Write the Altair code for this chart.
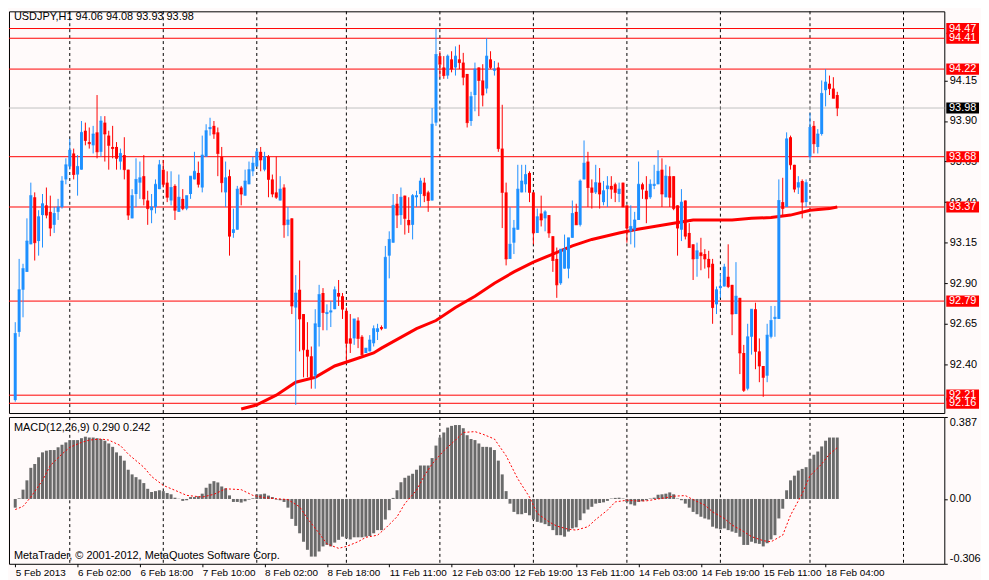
import json
import altair as alt
import pandas as pd

SYMBOL = "USDJPY,H1"
FONT = "Liberation Sans, Arial, sans-serif"
W = 943
H_MAIN = 405
H_MACD = 148
X_DOMAIN = [-0.33, 237.2]
PRICE_DOMAIN = [92.10, 94.576]
MACD_DOMAIN = [-0.306, 0.387]

opens = [
    92.18, 92.60, 92.86, 92.97, 93.14, 93.43, 93.16, 93.32, 93.38, 93.34,
    93.26, 93.34, 93.37, 93.54, 93.62, 93.70, 93.57, 93.60, 93.84, 93.77,
    93.75, 93.83, 93.71, 93.89, 93.81, 93.74, 93.74, 93.65, 93.69, 93.60,
    93.30, 93.45, 93.52, 93.56, 93.41, 93.35, 93.37, 93.48, 93.60, 93.52,
    93.41, 93.50, 93.34, 93.42, 93.36, 93.45, 93.54, 93.58, 93.49, 93.68,
    93.85, 93.87, 93.83, 93.68, 93.46, 93.56, 93.21, 93.23, 93.49, 93.44,
    93.51, 93.59, 93.62, 93.71, 93.60, 93.68, 93.54, 93.46, 93.41, 93.49,
    93.26, 93.30, 92.75, 92.86, 92.71, 92.49, 92.45, 92.33, 92.63, 92.84,
    92.71, 92.72, 92.74, 92.84, 92.82, 92.73, 92.56, 92.56, 92.67, 92.57,
    92.47, 92.48, 92.53, 92.60, 92.63, 92.62, 93.07, 93.15, 93.39, 93.32,
    93.44, 93.29, 93.26, 93.43, 93.45, 93.52, 93.46, 93.41, 93.89, 94.30,
    94.23, 94.18, 94.28, 94.23, 94.28, 94.26, 94.19, 93.90, 94.06, 94.23,
    94.15, 94.10, 94.28, 94.21, 94.23, 93.73, 93.46, 93.05, 93.15, 93.23,
    93.46, 93.51, 93.58, 93.46, 93.21, 93.33, 93.30, 93.32, 93.19, 93.05,
    92.90, 92.99, 92.99, 93.18, 93.34, 93.26, 93.54, 93.65, 93.49, 93.46,
    93.52, 93.40, 93.48, 93.50, 93.51, 93.45, 93.52, 93.38, 93.22, 93.23,
    93.29, 93.51, 93.47, 93.43, 93.50, 93.51, 93.60, 93.43, 93.56, 93.56,
    93.38, 93.23, 93.41, 93.21, 93.14, 93.05, 93.09, 93.08, 93.05, 93.02,
    92.77, 92.87, 92.88, 92.94, 92.89, 92.71, 92.81, 92.47, 92.25, 92.57,
    92.74, 92.48, 92.39, 92.33, 92.57, 92.68, 92.68, 93.40, 93.37, 93.80,
    93.63, 93.49, 93.53, 93.40, 93.68, 93.87, 93.74, 93.82, 94.09, 94.13,
    94.10, 94.06,
]
highs = [
    92.66, 93.05, 93.02, 93.30, 93.52, 93.46, 93.35, 93.45, 93.49, 93.44,
    93.37, 93.42, 93.56, 93.67, 93.79, 93.73, 93.69, 93.90, 93.89, 93.86,
    93.87, 94.06, 93.93, 93.93, 93.84, 93.87, 93.77, 93.73, 93.80, 93.60,
    93.48, 93.67, 93.65, 93.69, 93.47, 93.45, 93.54, 93.66, 93.66, 93.59,
    93.59, 93.51, 93.57, 93.48, 93.44, 93.56, 93.71, 93.65, 93.81, 93.88,
    93.92, 93.90, 93.86, 93.74, 93.65, 93.60, 93.36, 93.50, 93.50, 93.60,
    93.65, 93.68, 93.73, 93.74, 93.71, 93.69, 93.57, 93.68, 93.56, 93.51,
    93.37, 93.30, 92.95, 93.04, 92.71, 92.66, 92.51, 92.74, 92.89, 92.87,
    92.77, 92.79, 92.88, 92.92, 92.84, 92.75, 92.71, 92.68, 92.69, 92.58,
    92.50, 92.58, 92.64, 92.65, 92.64, 93.13, 93.22, 93.45, 93.45, 93.49,
    93.44, 93.43, 93.45, 93.47, 93.55, 93.55, 93.47, 93.98, 94.47, 94.33,
    94.30, 94.31, 94.33, 94.36, 94.37, 94.32, 94.19, 94.08, 94.26, 94.23,
    94.25, 94.41, 94.33, 94.27, 94.26, 94.00, 93.52, 93.37, 93.29, 93.63,
    93.63, 93.63, 93.59, 93.46, 93.36, 93.44, 93.35, 93.32, 93.19, 93.12,
    93.11, 93.20, 93.18, 93.41, 93.39, 93.54, 93.78, 93.71, 93.54, 93.63,
    93.61, 93.53, 93.56, 93.56, 93.52, 93.52, 93.52, 93.38, 93.38, 93.34,
    93.65, 93.52, 93.56, 93.54, 93.63, 93.72, 93.67, 93.63, 93.62, 93.56,
    93.38, 93.48, 93.41, 93.27, 93.14, 93.15, 93.18, 93.11, 93.10, 93.05,
    92.88, 92.96, 93.02, 93.14, 92.89, 93.03, 92.81, 92.52, 92.65, 92.74,
    92.78, 92.56, 92.39, 92.65, 92.76, 92.76, 93.54, 93.55, 93.83, 93.81,
    93.63, 93.56, 93.54, 93.54, 93.95, 93.90, 93.85, 94.15, 94.22, 94.18,
    94.17, 94.08,
]
lows = [
    92.17, 92.57, 92.69, 92.97, 93.14, 93.04, 93.07, 93.12, 93.30, 93.19,
    93.21, 93.29, 93.36, 93.51, 93.60, 93.54, 93.44, 93.60, 93.75, 93.73,
    93.70, 93.67, 93.68, 93.65, 93.60, 93.67, 93.60, 93.60, 93.54, 93.29,
    93.30, 93.37, 93.42, 93.38, 93.26, 93.27, 93.33, 93.48, 93.49, 93.40,
    93.38, 93.29, 93.34, 93.35, 93.35, 93.42, 93.54, 93.49, 93.46, 93.68,
    93.81, 93.79, 93.56, 93.46, 93.37, 93.07, 93.18, 93.23, 93.38, 93.44,
    93.51, 93.56, 93.62, 93.59, 93.59, 93.43, 93.43, 93.42, 93.41, 93.18,
    93.19, 92.71, 92.15, 92.48, 92.32, 92.32, 92.25, 92.25, 92.51, 92.61,
    92.61, 92.63, 92.74, 92.76, 92.68, 92.41, 92.47, 92.52, 92.50, 92.45,
    92.47, 92.48, 92.51, 92.55, 92.61, 92.62, 92.93, 93.15, 93.24, 93.26,
    93.20, 93.21, 93.17, 93.37, 93.37, 93.40, 93.34, 93.41, 93.87, 94.17,
    94.16, 94.16, 94.20, 94.18, 94.22, 94.12, 93.86, 93.87, 93.96, 93.93,
    93.99, 94.07, 94.22, 94.18, 93.71, 93.24, 93.01, 93.05, 93.08, 93.23,
    93.46, 93.46, 93.40, 93.14, 93.21, 93.25, 93.22, 93.18, 92.97, 92.81,
    92.89, 92.99, 92.93, 93.18, 93.26, 93.25, 93.54, 93.37, 93.36, 93.45,
    93.36, 93.38, 93.37, 93.42, 93.40, 93.40, 93.37, 93.15, 93.14, 93.12,
    93.29, 93.42, 93.27, 93.42, 93.48, 93.51, 93.37, 93.43, 93.37, 93.35,
    93.07, 93.16, 93.17, 93.12, 92.92, 92.94, 92.98, 92.99, 92.93, 92.65,
    92.71, 92.81, 92.88, 92.87, 92.58, 92.71, 92.34, 92.23, 92.24, 92.46,
    92.37, 92.29, 92.20, 92.29, 92.56, 92.57, 92.68, 93.31, 93.37, 93.60,
    93.46, 93.45, 93.30, 93.37, 93.66, 93.70, 93.70, 93.81, 93.99, 94.06,
    94.04, 93.93,
]
closes = [
    92.59, 92.86, 92.99, 93.16, 93.44, 93.15, 93.31, 93.39, 93.32, 93.24,
    93.33, 93.37, 93.53, 93.63, 93.72, 93.57, 93.62, 93.83, 93.78, 93.76,
    93.82, 93.71, 93.90, 93.82, 93.75, 93.73, 93.67, 93.70, 93.60, 93.32,
    93.44, 93.54, 93.55, 93.42, 93.36, 93.37, 93.51, 93.63, 93.51, 93.43,
    93.49, 93.35, 93.43, 93.36, 93.44, 93.56, 93.59, 93.51, 93.69, 93.84,
    93.86, 93.82, 93.70, 93.52, 93.55, 93.19, 93.23, 93.48, 93.45, 93.53,
    93.60, 93.64, 93.71, 93.66, 93.68, 93.54, 93.45, 93.43, 93.48, 93.26,
    93.29, 92.76, 92.84, 92.68, 92.49, 92.45, 92.32, 92.65, 92.83, 92.72,
    92.72, 92.73, 92.86, 92.82, 92.74, 92.53, 92.53, 92.68, 92.56, 92.46,
    92.50, 92.55, 92.62, 92.62, 92.62, 93.06, 93.17, 93.38, 93.32, 93.43,
    93.30, 93.26, 93.44, 93.44, 93.53, 93.44, 93.41, 93.88, 94.31, 94.25,
    94.18, 94.30, 94.22, 94.30, 94.26, 94.17, 93.89, 94.05, 94.22, 94.15,
    94.06, 94.30, 94.23, 94.22, 93.73, 93.46, 93.05, 93.14, 93.24, 93.48,
    93.53, 93.57, 93.46, 93.21, 93.31, 93.29, 93.34, 93.21, 93.04, 92.89,
    93.11, 93.11, 93.18, 93.33, 93.26, 93.53, 93.64, 93.49, 93.46, 93.52,
    93.45, 93.47, 93.50, 93.48, 93.46, 93.48, 93.37, 93.24, 93.25, 93.29,
    93.51, 93.48, 93.42, 93.51, 93.51, 93.59, 93.45, 93.56, 93.43, 93.36,
    93.24, 93.40, 93.19, 93.12, 93.05, 93.10, 93.07, 93.05, 93.00, 92.75,
    92.86, 92.88, 93.00, 92.88, 92.71, 92.82, 92.47, 92.24, 92.57, 92.74,
    92.48, 92.39, 92.32, 92.58, 92.67, 92.69, 93.41, 93.36, 93.79, 93.63,
    93.48, 93.52, 93.40, 93.52, 93.86, 93.76, 93.82, 94.07, 94.14, 94.10,
    94.04, 93.98,
]

# 200-period moving average (read where visible)
ma_bars = [58, 62, 67, 72, 77, 82, 87, 92, 94, 103, 108, 113, 118, 123, 128, 133,
           138, 143, 148, 155, 159, 164, 169, 174, 179, 184, 189, 194, 199, 204, 209, 211]
ma_vals = [92.125, 92.15, 92.21, 92.29, 92.32, 92.39, 92.43, 92.47, 92.50, 92.62, 92.67,
           92.75, 92.82, 92.90, 92.97, 93.03, 93.08, 93.13, 93.17, 93.21, 93.23, 93.25,
           93.27, 93.29, 93.29, 93.29, 93.30, 93.305, 93.32, 93.35, 93.36, 93.37]

# horizontal price levels
levels = [94.47, 94.41, 94.22, 93.68, 93.37, 92.79, 92.21, 92.16]
price_ticks = [92.40, 92.65, 92.90, 93.15, 93.40, 93.65, 93.90, 94.15]

# MACD(12,26,9) histogram (main line) per bar
macd_hist = [
    -0.041, 0.003, 0.044, 0.088, 0.147, 0.165, 0.197, 0.220, 0.228, 0.231,
    0.231, 0.244, 0.256, 0.267, 0.278, 0.278, 0.278, 0.287, 0.294, 0.290,
    0.290, 0.287, 0.283, 0.275, 0.262, 0.246, 0.220, 0.204, 0.181, 0.138,
    0.116, 0.103, 0.092, 0.075, 0.048, 0.033, 0.037, 0.041, 0.037, 0.028,
    0.022, 0.006, 0.001, -0.009, -0.006, 0.009, 0.009, 0.013, 0.025, 0.053,
    0.072, 0.084, 0.078, 0.059, 0.050, 0.017, -0.014, -0.014, -0.017, -0.011,
    -0.003, 0.003, 0.022, 0.022, 0.025, 0.016, 0.009, -0.003, -0.006, -0.014,
    -0.041, -0.094, -0.127, -0.162, -0.202, -0.240, -0.272, -0.272, -0.248, -0.224,
    -0.217, -0.224, -0.206, -0.193, -0.178, -0.186, -0.191, -0.181, -0.181, -0.181,
    -0.178, -0.175, -0.162, -0.147, -0.147, -0.097, -0.053, 0.005, 0.041, 0.079,
    0.100, 0.110, 0.119, 0.138, 0.158, 0.158, 0.158, 0.193, 0.252, 0.290,
    0.314, 0.337, 0.345, 0.349, 0.349, 0.334, 0.301, 0.283, 0.278, 0.262,
    0.246, 0.246, 0.244, 0.231, 0.181, 0.116, 0.037, -0.022, -0.061, -0.072,
    -0.072, -0.066, -0.077, -0.097, -0.108, -0.112, -0.119, -0.128, -0.147, -0.171,
    -0.171, -0.178, -0.154, -0.139, -0.134, -0.100, -0.068, -0.050, -0.037, -0.022,
    -0.019, -0.016, -0.009, 0.002, 0.005, 0.006, 0.002, -0.014, -0.025, -0.031,
    -0.014, -0.011, -0.006, 0.002, 0.006, 0.020, 0.022, 0.025, 0.031, 0.022,
    0.002, -0.006, -0.022, -0.041, -0.061, -0.072, -0.084, -0.092, -0.097, -0.131,
    -0.139, -0.143, -0.139, -0.147, -0.154, -0.160, -0.178, -0.217, -0.217, -0.202,
    -0.209, -0.212, -0.224, -0.209, -0.191, -0.171, -0.092, -0.046, 0.041, 0.088,
    0.110, 0.134, 0.142, 0.150, 0.189, 0.209, 0.224, 0.248, 0.275, 0.290,
    0.290, 0.290,
]
# signal line, read at sample bars
signal_bars = [0, 2, 4, 7, 9, 12, 14, 17, 19, 22, 24, 27, 29, 33, 35, 38, 41, 44, 48, 51,
               54, 58, 61, 64, 68, 70, 73, 75, 78, 80, 83, 85, 88, 90, 93, 95, 98, 100, 103,
               105, 107, 110, 113, 115, 118, 120, 123, 126, 129, 132, 134, 137, 139, 142, 144,
               147, 149, 152, 154, 157, 159, 162, 164, 167, 169, 172, 174, 177, 179, 182, 184,
               187, 189, 192, 194, 197, 199, 202, 204, 207, 209, 211]
signal_vals = [-0.050, -0.035, 0.009, 0.088, 0.158, 0.212, 0.244, 0.267, 0.278, 0.283,
               0.278, 0.252, 0.212, 0.150, 0.106, 0.064, 0.041, 0.017, 0.009, 0.022,
               0.048, 0.044, 0.017, 0.006, 0.000, -0.003, -0.037, -0.092, -0.162, -0.212,
               -0.233, -0.224, -0.202, -0.181, -0.171, -0.139, -0.084, -0.022, 0.041,
               0.110, 0.165, 0.228, 0.278, 0.314, 0.318, 0.306, 0.283, 0.204, 0.095, 0.009,
               -0.068, -0.108, -0.128, -0.143, -0.147, -0.131, -0.097, -0.053, -0.014,
               -0.006, -0.009, -0.009, -0.003, 0.006, 0.013, 0.016, -0.003, -0.029, -0.061,
               -0.092, -0.123, -0.154, -0.178, -0.197, -0.202, -0.171, -0.077, 0.025, 0.110,
               0.165, 0.212, 0.242]
macd_ticks = [-0.306, 0.0, 0.387]

# time axis
day_breaks = [14, 38, 62, 85, 109, 133, 157, 181, 204, 228]
x_label_bars = list(range(0, 209, 16))
x_labels = ["5 Feb 2013", "6 Feb 02:00", "6 Feb 18:00", "7 Feb 10:00", "8 Feb 02:00",
            "8 Feb 18:00", "11 Feb 11:00", "12 Feb 03:00", "12 Feb 19:00", "13 Feb 11:00",
            "14 Feb 03:00", "14 Feb 19:00", "15 Feb 11:00", "18 Feb 04:00"]

UP = "#1E90FF"
DOWN = "#FF0000"
BG = "#FFFAFA"
BOX = "M-1,-0.34H1V0.34H-1Z"
BOX_X = W + 18.5

candles = pd.DataFrame({"i": list(range(len(opens))), "open": opens, "high": highs,
                        "low": lows, "close": closes})
candles["dir"] = ["up" if c >= o else "down" for o, c in zip(opens, closes)]

xs = alt.Scale(domain=X_DOMAIN, nice=False, zero=False)
ps = alt.Scale(domain=PRICE_DOMAIN, nice=False, zero=False)
ms = alt.Scale(domain=MACD_DOMAIN, nice=False, zero=False)

price_axis = alt.Axis(orient="right", values=price_ticks, format=".2f", title=None,
                      tickSize=3, labelPadding=2, grid=False, domain=False)
macd_axis = alt.Axis(orient="right", values=macd_ticks, title=None, tickSize=3,
                     labelPadding=2, grid=False, domain=False, labelFlush=True,
                     labelExpr="datum.value == 0 ? '0.00' : (datum.value < 0 ? '-' + format(-datum.value, '.3f') : format(datum.value, '.3f'))")
x_axis = alt.Axis(values=x_label_bars, title=None, tickSize=3, labelPadding=1,
                  labelAlign="left", grid=False, domain=False, labelFlush=False,
                  labelOverlap=False, labelFontSize=10,
                  labelExpr=json.dumps(x_labels) + "[round(datum.value / 16)]")

color = alt.Color("dir:N", scale=alt.Scale(domain=["up", "down"], range=[UP, DOWN]), legend=None)

# ---------- main panel ----------
xm = alt.X("i:Q", scale=xs, axis=None)
days_df = pd.DataFrame({"d": day_breaks})
days_top = alt.Chart(days_df).mark_rule(color="black", strokeDash=[3, 3], strokeWidth=1).encode(
    x=alt.X("d:Q", scale=xs, axis=None))

lv_df = pd.DataFrame({"level": levels})
level_rules = alt.Chart(lv_df).mark_rule(color="#FF0000", strokeWidth=1).encode(
    y=alt.Y("level:Q", scale=ps, axis=price_axis))
bid_df = pd.DataFrame({"bid": [closes[-1]]})
bid_rule = alt.Chart(bid_df).mark_rule(color="#C0C0C0", strokeWidth=1).encode(
    y=alt.Y("bid:Q", scale=ps, axis=price_axis))

ma_df = pd.DataFrame({"i": ma_bars, "ma": ma_vals})
ma_line = alt.Chart(ma_df).mark_line(color="#FF0000", strokeWidth=3, clip=True).encode(
    x=xm, y=alt.Y("ma:Q", scale=ps, axis=price_axis))

base = alt.Chart(candles)
wicks = base.mark_rule(strokeWidth=1).encode(
    x=xm, y=alt.Y("low:Q", scale=ps, axis=price_axis), y2="high:Q", color=color)
bodies = base.mark_bar(size=3).encode(
    x=xm, y=alt.Y("open:Q", scale=ps, axis=price_axis), y2="close:Q", color=color)
dojis = base.mark_tick(orient="horizontal", size=3, thickness=1).encode(
    x=xm, y=alt.Y("close:Q", scale=ps, axis=price_axis), color=color)

level_boxes = alt.Chart(lv_df).mark_point(shape=BOX, size=33 * 33, filled=True, opacity=1,
                                          strokeWidth=0, color="#FF0000").encode(
    x=alt.value(BOX_X), y=alt.Y("level:Q", scale=ps, axis=price_axis))
level_text = alt.Chart(lv_df).mark_text(color="white", font=FONT, fontSize=11, align="center",
                                        baseline="middle").encode(
    x=alt.value(BOX_X), y=alt.Y("level:Q", scale=ps, axis=price_axis),
    text=alt.Text("level:Q", format=".2f"))
bid_box = alt.Chart(bid_df).mark_point(shape=BOX, size=33 * 33, filled=True, opacity=1,
                                       strokeWidth=0, color="black").encode(
    x=alt.value(BOX_X), y=alt.Y("bid:Q", scale=ps, axis=price_axis))
bid_text = alt.Chart(bid_df).mark_text(color="white", font=FONT, fontSize=11, align="center",
                                       baseline="middle").encode(
    x=alt.value(BOX_X), y=alt.Y("bid:Q", scale=ps, axis=price_axis),
    text=alt.Text("bid:Q", format=".2f"))

header = f"{SYMBOL}  {opens[-1]:.2f} {highs[-1]:.2f} {lows[-1]:.2f} {closes[-1]:.2f}"
head_df = pd.DataFrame({"t": [header]})
head_text = alt.Chart(head_df).mark_text(align="left", baseline="top", font=FONT, fontSize=11,
                                         color="black").encode(
    x=alt.value(5), y=alt.value(0), text="t:N")

main = alt.layer(days_top, level_rules, bid_rule, ma_line, wicks, bodies, dojis,
                 level_boxes, level_text, bid_box, bid_text, head_text).properties(
    width=W, height=H_MAIN)

# ---------- MACD panel ----------
xb = alt.X("i:Q", scale=xs, axis=x_axis)
days_bot = alt.Chart(days_df).mark_rule(color="black", strokeDash=[3, 3], strokeWidth=1).encode(
    x=alt.X("d:Q", scale=xs, axis=x_axis))
hist_df = pd.DataFrame({"i": list(range(len(macd_hist))), "m": macd_hist})
hist = alt.Chart(hist_df).mark_bar(size=3, color="#6A6A6A").encode(
    x=xb, y=alt.Y("m:Q", scale=ms, axis=macd_axis), y2=alt.datum(0))
sig_df = pd.DataFrame({"i": signal_bars, "s": signal_vals})
sig = alt.Chart(sig_df).mark_line(color="#FF0000", strokeWidth=1, strokeDash=[2, 2]).encode(
    x=xb, y=alt.Y("s:Q", scale=ms, axis=macd_axis))

macd_head = f"MACD(12,26,9) {macd_hist[-1]:.3f} {signal_vals[-1]:.3f}"
mh_df = pd.DataFrame({"t": [macd_head]})
mh_text = alt.Chart(mh_df).mark_text(align="left", baseline="top", font=FONT, fontSize=11,
                                     color="black").encode(
    x=alt.value(5), y=alt.value(5), text="t:N")
copy_df = pd.DataFrame({"t": ["MetaTrader, \u00a9 2001-2012, MetaQuotes Software Corp."]})
copy_text = alt.Chart(copy_df).mark_text(align="left", baseline="bottom", font=FONT, fontSize=11,
                                         color="black").encode(
    x=alt.value(5), y=alt.value(H_MACD - 3), text="t:N")

macd = alt.layer(days_bot, hist, sig, mh_text, copy_text).properties(width=W, height=H_MACD)

chart = alt.vconcat(main, macd, spacing=2).properties(
    background=BG, padding=0
).configure_view(
    stroke="black", strokeWidth=1
).configure_axis(
    labelFont=FONT, labelFontSize=11, labelColor="black", tickColor="black"
)

chart.save("out.html", embed_options={"renderer": "svg", "actions": False})
